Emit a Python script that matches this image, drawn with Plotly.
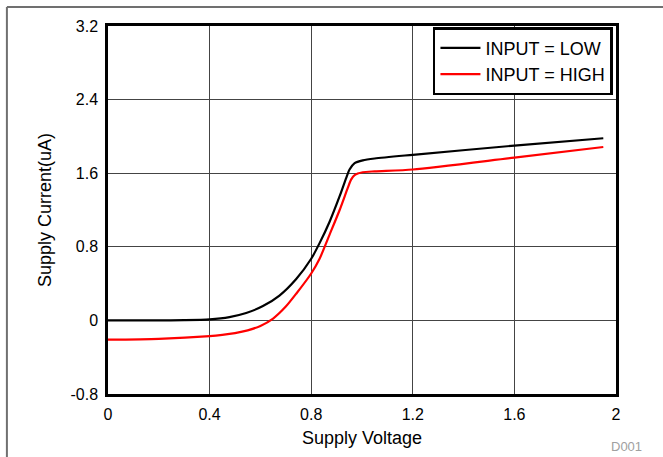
import plotly.graph_objects as go

# Data
x_low = [0.0, 0.2, 0.3, 0.4, 0.478, 0.544, 0.61, 0.675, 0.741, 0.8, 0.833, 0.872, 0.912, 0.938, 0.951, 0.971, 1.003, 1.05, 1.2, 1.6, 1.95]
y_low = [0.0, 0.0, 0.003, 0.012, 0.036, 0.08, 0.156, 0.27, 0.45, 0.67, 0.84, 1.07, 1.35, 1.55, 1.64, 1.71, 1.74, 1.76, 1.80, 1.90, 1.98]

x_high = [0.0, 0.2, 0.4, 0.45, 0.5, 0.55, 0.6, 0.65, 0.7, 0.741, 0.8, 0.833, 0.872, 0.912, 0.944, 0.957, 0.971, 1.003, 1.05, 1.2, 1.6, 1.95]
y_high = [-0.21, -0.2, -0.17, -0.157, -0.138, -0.108, -0.06, 0.02, 0.15, 0.29, 0.51, 0.67, 0.93, 1.2, 1.44, 1.53, 1.58, 1.61, 1.62, 1.64, 1.77, 1.885]

x_ticks = [0, 0.4, 0.8, 1.2, 1.6, 2]
x_tick_labels = ["0", "0.4", "0.8", "1.2", "1.6", "2"]
y_ticks = [-0.8, 0, 0.8, 1.6, 2.4, 3.2]
y_tick_labels = ["-0.8", "0", "0.8", "1.6", "2.4", "3.2"]

FONT = "Liberation Sans, Arial, sans-serif"

fig = go.Figure()
fig.add_trace(go.Scatter(x=x_low, y=y_low, mode="lines", name="INPUT = LOW",
                         line=dict(color="black", width=2.2, shape="spline", smoothing=0.7)))
fig.add_trace(go.Scatter(x=x_high, y=y_high, mode="lines", name="INPUT = HIGH",
                         line=dict(color="#ff0000", width=2.2, shape="spline", smoothing=0.7)))

axis_common = dict(showline=True, linecolor="black", linewidth=2.5, mirror=True,
                   showgrid=True, gridcolor="#444444", gridwidth=1, zeroline=False,
                   ticks="", ticklabelstandoff=4,
                   tickfont=dict(size=16, color="black", family=FONT))

fig.update_xaxes(range=[0, 2], tickvals=x_ticks, ticktext=x_tick_labels,
                 title=dict(text="Supply Voltage", font=dict(size=18, color="black", family=FONT), standoff=10),
                 **axis_common)
fig.update_yaxes(range=[-0.8, 3.2], tickvals=y_ticks, ticktext=y_tick_labels,
                 title=dict(text="Supply Current(uA)", font=dict(size=18, color="black", family=FONT), standoff=15),
                 **axis_common)

fig.update_layout(
    width=663, height=457,
    margin=dict(l=108, r=47, t=26, b=63),
    plot_bgcolor="white", paper_bgcolor="white",
    font=dict(family=FONT, color="black"),
    showlegend=True,
    legend=dict(x=0.994, y=0.997, xanchor="right", yanchor="top",
                bgcolor="white", bordercolor="black", borderwidth=2.5,
                font=dict(size=18, color="black", family=FONT),
                tracegroupgap=0, itemwidth=40),
    shapes=[
        dict(type="line", xref="paper", yref="paper", x0=-0.199, x1=1.2, y0=1.0516, y1=1.0516,
             line=dict(color="#707070", width=2)),
        dict(type="line", xref="paper", yref="paper", x0=-0.199, x1=-0.199, y0=-0.2, y1=1.0516,
             line=dict(color="#707070", width=2)),
    ],
    annotations=[
        dict(text="D001", xref="paper", yref="paper", x=1.02, y=-0.144, xanchor="center",
             yanchor="middle", showarrow=False, font=dict(size=13, color="#a0a0a0", family=FONT)),
    ],
)

fig.write_html("out.html", config={"displayModeBar": False},
               post_script="document.body.style.margin='0';document.body.style.overflow='hidden';")
